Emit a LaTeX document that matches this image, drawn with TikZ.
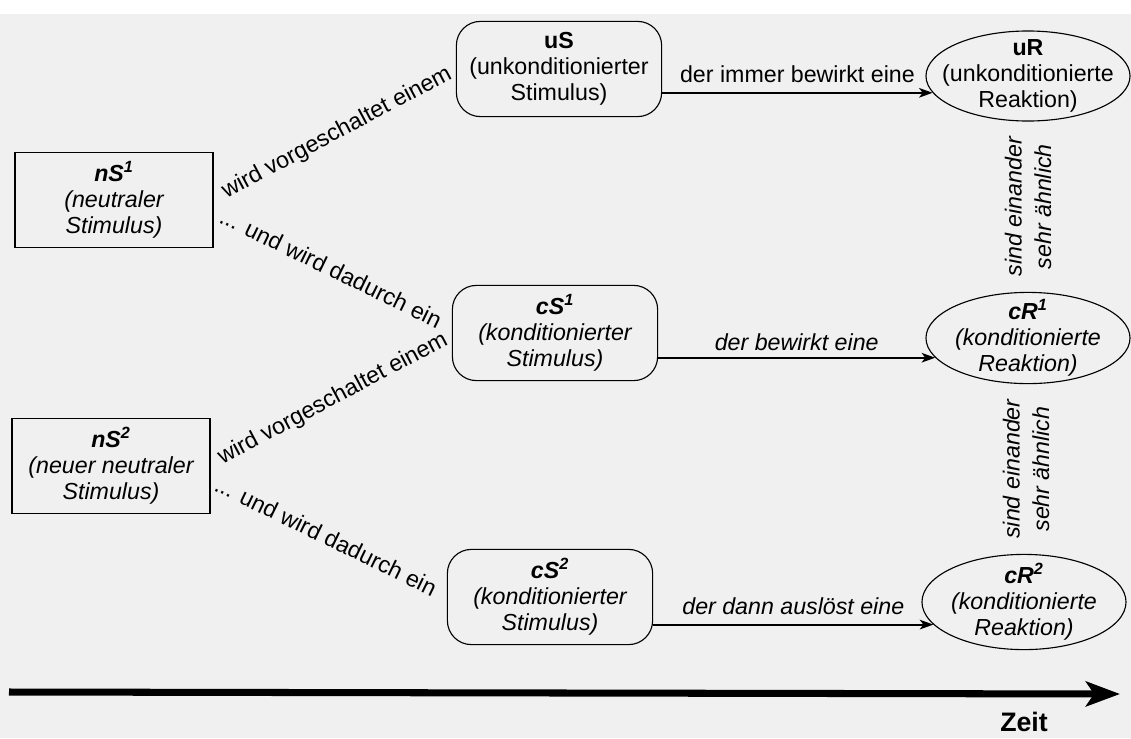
\documentclass[tikz,border=0pt]{standalone}
\usepackage{fontspec}
\setmainfont{Liberation Sans}
\usetikzlibrary{shapes, arrows, arrows.meta, positioning, calc}
\newcommand{\grund}{\fontsize{16.5}{18.5}\selectfont}

\begin{document}
\begin{tikzpicture}[x=0.025cm, y=-0.025cm, >={Stealth[length=3.4mm, width=2.4mm, inset=0.9mm]}, font=\grund]
    \tikzset{
        neutral/.style={draw, rectangle, line width=0.8pt, minimum width=4.95cm, minimum height=2.38cm, align=center, inner sep=0pt, font=\grund\itshape},
        stim/.style={draw, rectangle, rounded corners=0.6cm, line width=0.8pt, minimum width=5.13cm, minimum height=2.38cm, align=center, inner sep=0pt},
        reakt/.style={draw, ellipse, line width=0.8pt, minimum width=5.1cm, minimum height=2.25cm, align=center, inner sep=-20pt},
        pfeil/.style={->, line width=1.3pt},
        schraeg/.style={inner sep=0pt},
        aehnlich/.style={rotate=90, align=center, font=\fontsize{16.5}{21}\selectfont\itshape}
    }
    % --- Hintergrund ---
    \useasboundingbox (0,0) rectangle (1131,738);
    \fill[black!6] (0,14) rectangle (1131,738);

    % --- Neutrale Reize ---
    \node [neutral] (nS1) at (114,200) {\textbf{nS\textsuperscript{1}}\\(neutraler\\Stimulus)};
    \node [neutral] (nS2) at (111,466) {\textbf{nS\textsuperscript{2}}\\(neuer neutraler\\Stimulus)};

    % --- Stimuli ---
    \node [stim] (uS) at (559,69) {\textbf{uS}\\(unkonditionierter\\Stimulus)};
    \node [stim, font=\grund\itshape] (cS1) at (555,333) {\textbf{cS\textsuperscript{1}}\\(konditionierter\\Stimulus)};
    \node [stim, font=\grund\itshape] (cS2) at (550,597) {\textbf{cS\textsuperscript{2}}\\(konditionierter\\Stimulus)};

    % --- Reaktionen ---
    \node [reakt] (uR) at (1028,76) {\textbf{uR}\\(unkonditionierte\\Reaktion)};
    \node [reakt, minimum height=2.28cm, font=\grund\itshape] (cR1) at (1028,338) {\textbf{cR\textsuperscript{1}}\\(konditionierte\\Reaktion)};
    \node [reakt, minimum height=2.38cm, font=\grund\itshape] (cR2) at (1024,602) {\textbf{cR\textsuperscript{2}}\\(konditionierte\\Reaktion)};

    % --- Schraege Beschriftungen ---
    \node [schraeg, rotate=28] (vor1) at (337,133) {wird vorgeschaltet einem};
    \node [schraeg, rotate=-26] (ein1) at (331,268) {... und wird dadurch ein};
    \node [schraeg, rotate=28] (vor2) at (333,399) {wird vorgeschaltet einem};
    \node [schraeg, rotate=-26] (ein2) at (326,536) {... und wird dadurch ein};

    % --- Stimulus -> Reaktion ---
    \draw [pfeil] (uR.190 -| uS.east) -- node[above=3pt] {der immer bewirkt eine} (uR.190);
    \draw [pfeil] (cR1.192 -| cS1.east) -- node[above=1pt, font=\grund\itshape] {der bewirkt eine} (cR1.192);
    \draw [pfeil] (cR2.194 -| cS2.east) -- node[above=3pt, font=\grund\itshape] {der dann auslöst eine} (cR2.194);

    % --- Aehnlichkeit ---
    \path (uR) -- node[aehnlich] (ae1) {sind einander\\sehr ähnlich} (cR1);
    \path (cR1) -- node[aehnlich] (ae2) {sind einander\\sehr ähnlich} (cR2);

    % --- Zeitachse ---
    \coordinate (t0) at (9,692);
    \coordinate (t1) at (1120,694);
    \draw [line width=5pt, -{Stealth[length=0.85cm, width=0.62cm, inset=0.2cm]}] (t0) -- (t1);
    \node [font=\fontsize{19}{22}\selectfont\bfseries] (zeit) at (1024,722) {Zeit};
\end{tikzpicture}
\end{document}
